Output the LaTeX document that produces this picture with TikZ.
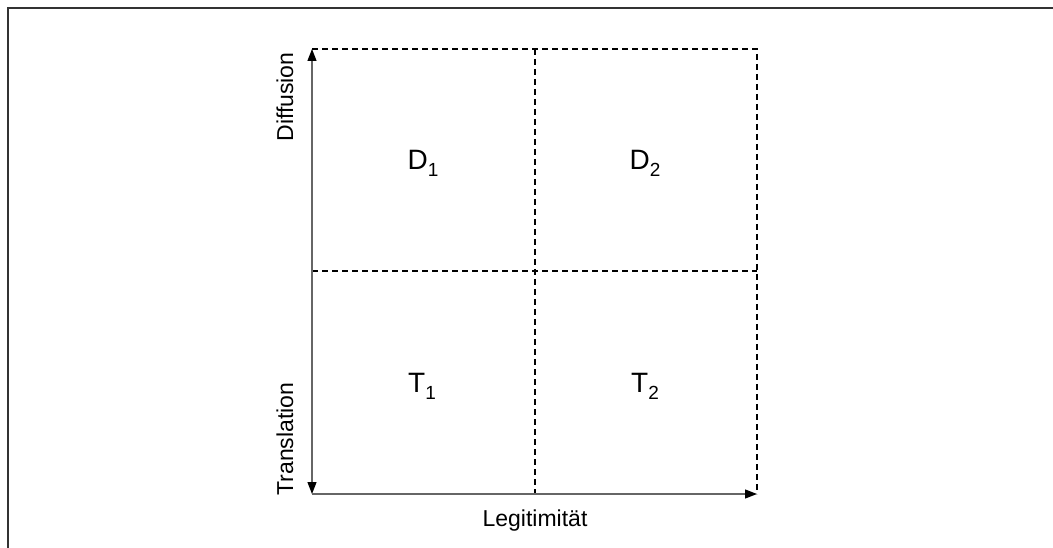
\documentclass[tikz,border=0pt]{standalone}
\usepackage{fontspec}
\setmainfont{Liberation Sans}
\usetikzlibrary{arrows.meta}
\newcommand{\qsub}[1]{\raisebox{-7pt}{\fontsize{19}{21}\selectfont #1}}

\begin{document}
\begin{tikzpicture}[x=1pt,y=-1pt,
 frm/.style={draw=black!80,line width=1.5pt},
 grd/.style={draw=black,line width=1.3pt,dash pattern=on 6pt off 4pt},
 ax/.style={draw=black!60,line width=1.3pt},
 qd/.style={font=\fontsize{28}{32}\selectfont,inner sep=0pt},
 axl/.style={font=\fontsize{23}{27}\selectfont,inner sep=0pt}]
\useasboundingbox (0,0) rectangle (1053,548);
% outer frame
\draw[frm] (8,548) -- (8,8) -- (1053,8);
% grid corners
\coordinate (o) at (312,494);
\coordinate (ytop) at (312,49);
\coordinate (xend) at (757,494);
\coordinate (tr) at (757,49);
\coordinate (mt) at (535,49);
\coordinate (mb) at (535,494);
\coordinate (ml) at (312,271);
\coordinate (mr) at (757,271);
\draw[grd] (ytop) -- (tr) -- (xend);
\draw[grd] (mt) -- (mb);
\draw[grd] (ml) -- (mr);
% axes
\draw[ax,{Triangle[length=12pt,width=9pt,color=black]}-{Triangle[length=12pt,width=9pt,color=black]}] (o) -- (ytop);
\draw[ax,-{Triangle[length=12pt,width=9pt,color=black]}] (o) -- (xend);
% quadrants
\node[qd] (d1) at (423,163) {D\qsub{1}};
\node[qd] (d2) at (645,163) {D\qsub{2}};
\node[qd] (t1) at (422,386) {T\qsub{1}};
\node[qd] (t2) at (645,386) {T\qsub{2}};
% axis labels
\node[axl,rotate=90] (ydif) at (285,97) {Diffusion};
\node[axl,rotate=90] (ytra) at (285,439) {Translation};
\node[axl] (xleg) at (535,521) {Legitimität};
\end{tikzpicture}
\end{document}
